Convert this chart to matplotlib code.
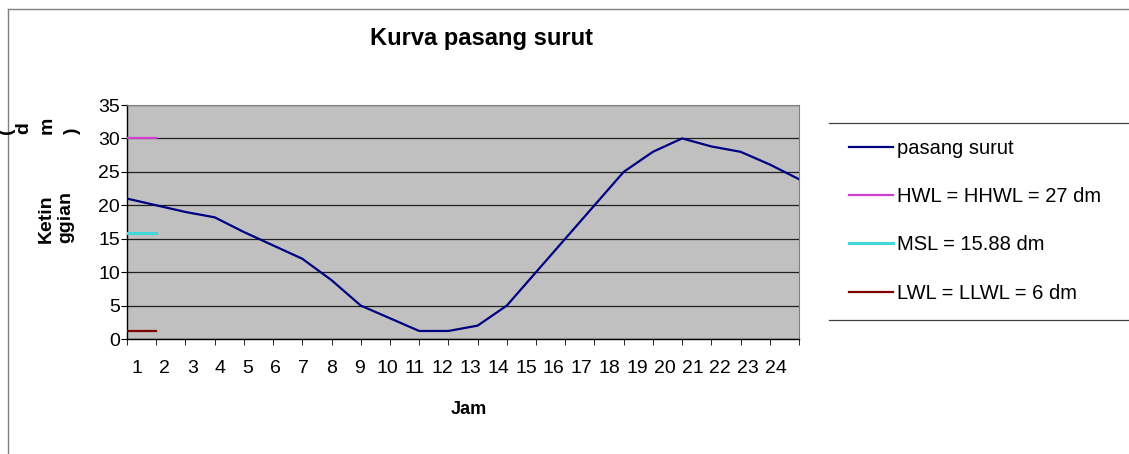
import matplotlib
matplotlib.use("Agg")
import matplotlib.pyplot as plt
import numpy as np
from matplotlib.lines import Line2D

plt.rcParams['font.family'] = ['Liberation Sans', 'DejaVu Sans']

# data
jam = list(range(1, 25))
pasang_surut = [21, 20, 19, 18.2, 16, 14, 12, 8.8, 5, 3.1, 1.2, 1.2,
                2, 5, 10, 15, 20, 25, 28, 30, 28.8, 28, 26.1, 23.9]
hwl = [30, 30]
msl = [15.88, 15.88]
lwl = [1.2, 1.2]
labels = ['pasang surut', 'HWL = HHWL = 27 dm', 'MSL = 15.88 dm', 'LWL = LLWL = 6 dm']
colors = ['#000080', '#d040d0', '#40d8d8', '#800000']

W, H = 1129, 454
fig = plt.figure(figsize=(W / 100, H / 100), dpi=100)
fig.patch.set_facecolor('white')

# plot area in pixels: x 127..799, y 105..339
ax = fig.add_axes([127 / W, 1 - 339 / H, (799 - 127) / W, (339 - 105) / H])
ax.set_facecolor('#c0c0c0')

x = np.arange(len(jam))
ax.plot(x, pasang_surut, color=colors[0], lw=1.6, label=labels[0], zorder=3)
ax.plot(x[:2], hwl, color=colors[1], lw=1.6, label=labels[1], zorder=3)
ax.plot(x[:2], msl, color=colors[2], lw=2.2, label=labels[2], zorder=3)
ax.plot(x[:2], lwl, color=colors[3], lw=1.6, label=labels[3], zorder=3)

ax.set_xlim(0, len(jam) - 1)
ax.set_ylim(0, 35)
ax.set_yticks(range(0, 36, 5))
ax.yaxis.grid(True, color='#202020', lw=0.9)
ax.set_axisbelow(True)

# category labels sit slightly off the tick marks, as in the source
ax.set_xticks(np.linspace(0.34, 22.21, len(jam)))
ax.set_xticklabels([str(j) for j in jam])
ax.set_xticks(x, minor=True)
ax.tick_params(axis='x', which='major', length=0, pad=15, labelsize=14)
ax.tick_params(axis='x', which='minor', length=4, direction='out', color='black')
ax.tick_params(axis='y', length=4, direction='out', pad=1, labelsize=14)

for s in ['top', 'right']:
    ax.spines[s].set_color('#808080')
for s in ['left', 'bottom']:
    ax.spines[s].set_color('black')
    ax.spines[s].set_linewidth(1.0)

fig.text(481 / W, 1 - 38 / H, 'Kurva pasang surut', ha='center', va='center',
         fontsize=17, fontweight='bold')
fig.text(469 / W, 1 - 410 / H, 'Jam', ha='center', va='center',
         fontsize=13, fontweight='bold')
fig.text(56 / W, 1 - 217 / H, 'Ketin\nggian', ha='center', va='center',
         rotation=90, fontsize=14, fontweight='bold', multialignment='left',
         linespacing=1.15)
for ch, px in zip(['(', 'd', 'm', ')'], [7, 24, 47, 72]):
    fig.text(px / W, 1 - 134 / H, ch, ha='center', va='bottom', rotation=90,
             fontsize=14, fontweight='bold')

leg = ax.legend(loc='upper left', bbox_to_anchor=(849 / W, 1 - 139 / H),
                bbox_transform=fig.transFigure, frameon=False, fontsize=14.5,
                handlelength=2.2, handletextpad=0.2, labelspacing=1.45,
                borderpad=0, borderaxespad=0)

# legend rules and outer chart border
for yy in [123, 320]:
    fig.add_artist(Line2D([829 / W, 1], [1 - yy / H, 1 - yy / H],
                          color='#404040', lw=0.9))
fig.add_artist(Line2D([8 / W, 1], [1 - 9 / H, 1 - 9 / H], color='#808080', lw=1))
fig.add_artist(Line2D([8 / W, 8 / W], [0, 1 - 9 / H], color='#808080', lw=1))

fig.savefig('out.png', dpi=100)
